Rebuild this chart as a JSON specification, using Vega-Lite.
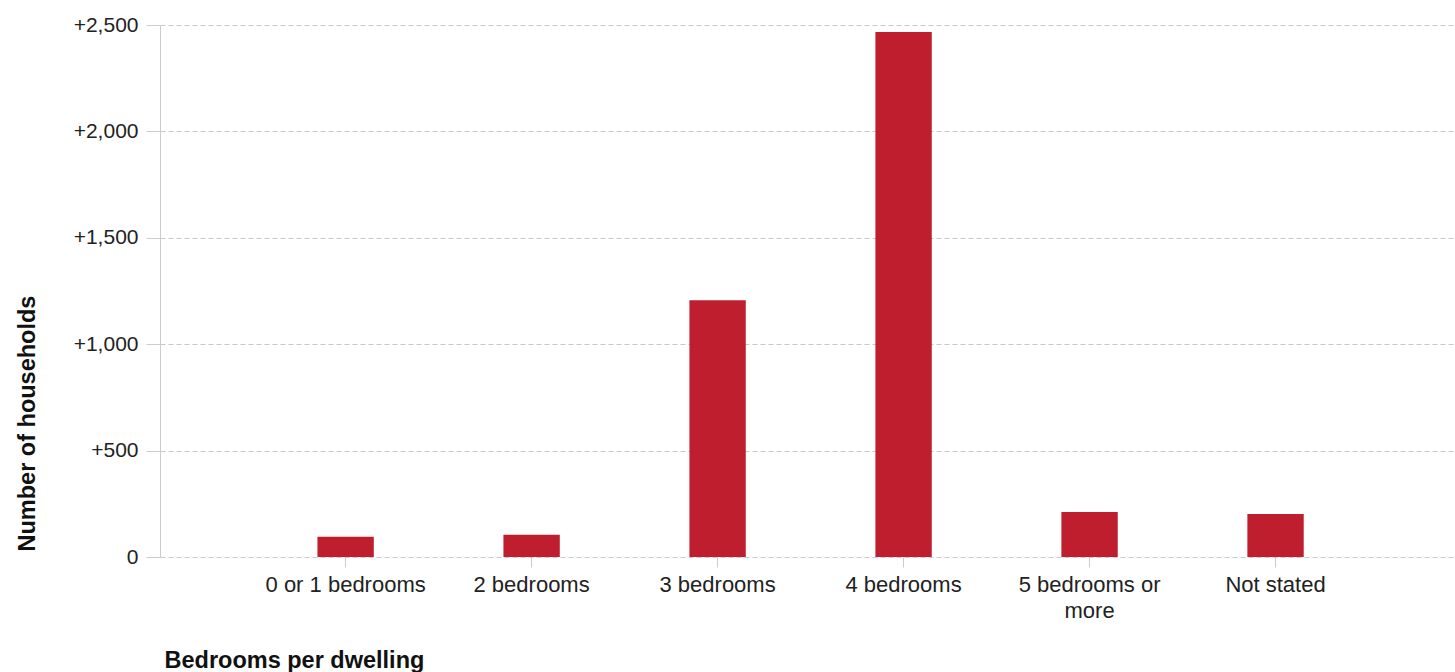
{
  "$schema": "https://vega.github.io/schema/vega-lite/v6.json",
  "width": 1295,
  "height": 532,
  "autosize": {"type": "none"},
  "padding": {"left": 160, "top": 25, "right": 0, "bottom": 115},
  "background": "white",
  "config": {
    "view": {"stroke": null},
    "font": "Liberation Sans"
  },
  "data": {
    "values": [
      {"category": "0 or 1 bedrooms", "households": 95},
      {"category": "2 bedrooms", "households": 105},
      {"category": "3 bedrooms", "households": 1206},
      {"category": "4 bedrooms", "households": 2467},
      {"category": "5 bedrooms or more", "households": 211},
      {"category": "Not stated", "households": 202}
    ]
  },
  "mark": {"type": "bar", "color": "#BE1E2D"},
  "encoding": {
    "x": {
      "field": "category",
      "type": "nominal",
      "sort": null,
      "scale": {"paddingInner": 0.697, "paddingOuter": 0.83, "align": 0.51},
      "axis": {
        "title": "Bedrooms per dwelling",
        "titleFont": "Liberation Sans",
        "titleFontSize": 23.5,
        "titleFontWeight": "bold",
        "titleColor": "#111111",
        "titleAnchor": "start",
        "titleAlign": "left",
        "titleBaseline": "middle",
        "titleX": 4,
        "titleY": 103,
        "labelAngle": 0,
        "labelFontSize": 22,
        "labelColor": "#222222",
        "labelPadding": 7,
        "labelLineHeight": 26,
        "labelExpr": "datum.label == '5 bedrooms or more' ? ['5 bedrooms or', 'more'] : datum.label",
        "domain": false,
        "ticks": true,
        "tickSize": 10,
        "tickColor": "#cccccc",
        "grid": false
      }
    },
    "y": {
      "field": "households",
      "type": "quantitative",
      "scale": {"domain": [0, 2500], "nice": false},
      "axis": {
        "title": "Number of households",
        "titleFont": "Liberation Sans",
        "titleFontSize": 23.5,
        "titleFontWeight": "bold",
        "titleColor": "#111111",
        "titleAngle": -90,
        "titleAlign": "left",
        "titleBaseline": "middle",
        "titleX": -133,
        "titleY": 526,
        "values": [0, 500, 1000, 1500, 2000, 2500],
        "labelExpr": "datum.value == 0 ? '0' : '+' + format(datum.value, ',')",
        "labelFontSize": 21,
        "labelColor": "#222222",
        "labelPadding": 8,
        "tickSize": 14,
        "tickColor": "#cccccc",
        "domain": true,
        "domainColor": "#cccccc",
        "grid": true,
        "gridColor": "#c8c8c8",
        "gridDash": [5, 3],
        "gridWidth": 1
      }
    }
  }
}
